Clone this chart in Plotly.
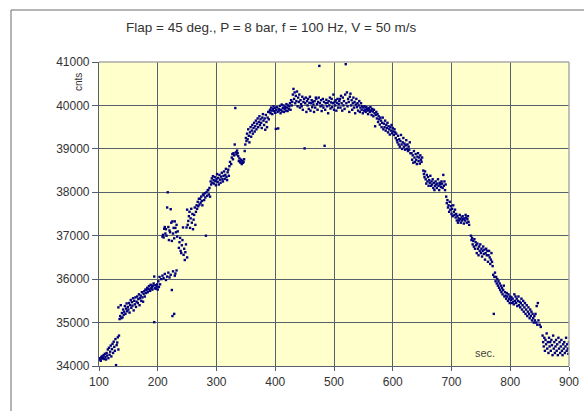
import plotly.graph_objects as go

# ---- data (seconds, counts) ----
a_sec = [101,102,103,104,105,106,107,108,109,110,111,112,113,114,115,116,117,118,119,120,121,122,123,124,125,126,127,128,129,130,131,132,133,134]
a_cnt = [34150,34180,34120,34210,34170,34230,34190,34250,34160,34280,34210,34150,34300,34240,34380,34180,34420,34260,34330,34470,34220,34390,34510,34300,34560,34440,34350,34620,34020,34480,34540,34660,34380,34700]

b_sec = [133,135,136,137,138,139,140,141,142,143,144,145,146,147,148,149,150,151,152,153,154,155,156,157,158,159,160,161,162,163,164,165,166,167,168,169,170,171,172,173,174,175,176,177,178,179,180,181,182,183,184,185,186,187,188,189,190,191,192,193,194,195,196,197,198,199,200,201,202,203,204]
b_cnt = [35350,35080,35150,35400,35100,35220,35120,35300,35180,35250,35380,35200,35320,35440,35260,35360,35300,35450,35230,35400,35520,35340,35470,35390,35560,35280,35500,35420,35580,35360,35480,35600,35450,35540,35650,35400,35560,35620,35500,35700,35580,35480,35660,35720,35600,35760,35680,35750,35800,35700,35780,35840,35760,35730,35870,35790,35820,35760,35850,35900,35010,35790,35860,35780,35830,35880,35760,35950,35820,36050,35880]

c_sec = [194,206,208,210,212,214,216,218,220,222,224,225,226,228,229,230,232]
c_cnt = [36060,36000,36080,36020,36120,35980,36060,36150,36040,36100,35750,35150,36180,35200,36080,36130,36200]

d_sec = [208,209,210,211,212,213,214,215,216,217,218,219,220,221,222,223,224,225,226,227,228,229,230,231,232,233,234]
d_cnt = [36980,37020,36960,37160,37200,37050,37150,37000,37650,38000,37200,36900,37120,37080,37610,37300,36880,37330,37050,37180,36940,37330,37180,37080,37250,36980,37100]

e_sec = [236,237,238,239,240,241,242,243,244,245,246,247,248,249,250]
e_cnt = [36720,36850,36950,36650,36600,36780,36900,37190,36560,36700,36440,36620,36800,37190,36500]

f_sec = [250,251,252,253,254,255,256,257,258,259,260,261,262,263,264,265]
f_cnt = [37600,37250,37340,37450,37550,37180,37400,37620,37300,37500,37150,37370,37480,37650,37250,37550]

g_sec = [266,267,268,269,270,271,272,273,274,275,276,277,278,279,280,281,282,283,284,285,286,287,288,289]
g_cnt = [37700,37620,37780,37680,37850,37720,37850,37760,37900,37800,37700,37950,37930,37820,37980,37880,37000,38000,37920,38050,38050,37950,38100,37900]

h_sec = [290,291,292,293,294,295,296,297,298,299,300,301,302,303,304,305,306,307,308,309,310,311,312,313,314,315,316,317,318,319,320,321,322]
h_cnt = [38250,38180,38320,38220,38370,38280,38200,38350,38260,38160,38300,38420,38240,38330,38180,38400,38290,38220,38360,38450,38300,38250,38380,38480,38310,38400,38540,38350,38280,38460,38520,38380,38600]

i_sec = [323,325,326,327,328,329,330,331,332,333,334,335,336,337,338,339,340,341,342,343,344,345,346,347,348]
i_cnt = [38700,38650,38800,38880,38760,38900,38850,39100,39940,38920,38870,38960,38900,38830,38720,38780,38700,38680,38750,38650,38720,38680,38700,38760,38950]

j_sec = [349,350,351,352,353,354,355,356,357,358,359,360,361,362,363,364,365,366,367,368,369,370,371,372,373,374,375,376,377,378,379,380,381,382,383,384,385,386,387,388,389]
j_cnt = [39100,39250,39180,39350,39220,39450,39300,39150,39380,39500,39280,39420,39550,39350,39480,39600,39400,39520,39650,39450,39580,39700,39500,39620,39750,39550,39680,39600,39480,39720,39800,39650,39550,39700,39440,39780,39620,39500,39720,39850,39680]

k_sec = [390,391,392,393,394,395,396,397,398,399,400,401,402,403,404,405,406,407,408,409,410,411,412,413,414,415,416,417,418,419,420,421,422,423,424,425,426,427,428,429]
k_cnt = [39850,39900,39820,39950,39880,39800,39920,39980,39870,39940,39830,39460,39900,39960,39850,39470,39920,39880,39990,39820,39900,40020,39860,39940,40000,39850,39920,39960,39880,40030,39950,39870,40000,39920,39980,40050,39900,40120,40000,40080]

l_sec = [430,431,432,433,434,435,436,437,438,439,440,441,442,443,444,445,446,447,448,449,450,451,452,453,454,455,456,457,458,459,460,461,462,463,464,465,466,467,468,469,470,471,472,473,474,475,476,477,478,479,480,481,482,483,484,485,486,487,488,489,490,491,492,493,494,495,496,497,498,499,500,501,502,503,504,505,506,507,508,509]
l_cnt = [40250,40380,40150,40300,40050,40220,40100,40320,39980,40180,40080,40250,39950,40120,40030,39980,40200,39900,40080,40150,39010,40050,40180,39850,40100,40000,40150,39920,40060,40200,39880,40050,40120,39960,40080,40020,39850,40100,39950,40180,40150,40030,39900,40080,40180,40910,40050,39980,40120,39870,40000,40150,39950,40080,39070,39900,40050,40130,39980,40060,39820,40100,40000,40180,39930,40070,40150,39960,40050,40250,39900,40080,40000,40120,39880,40060,40150,39950,40030,40100]

m_sec = [510,511,512,513,514,515,516,517,518,519,520,521,522,523,524,525,526,527,528,529,530,531,532,533,534,535,536,537,538,539,540,541,542,543,544,545,546,547,548,549]
m_cnt = [40150,39950,40220,40050,39880,40180,40000,40100,39920,40250,40950,40050,40300,39980,40150,40080,39850,40200,40270,40000,40120,39900,40050,40180,39950,40080,39820,40020,40150,39960,40050,39880,40000,40100,39850,39950,40050,39900,39980,39820]

n_sec = [550,551,552,553,554,555,556,557,558,559,560,561,562,563,564,565,566,567,568,569,570,571,572]
n_cnt = [39950,39880,39980,39900,39850,39960,39920,39880,39800,39940,39900,39850,39960,39880,39780,39920,39860,39750,39900,39820,39520,39780,39850]

o_sec = [573,574,575,576,577,578,579,580,581,582,583,584,585,586,587,588,589,590,591,592,593,594,595,596,597,598,599,600,601,602,603,604,605]
o_cnt = [39700,39800,39620,39750,39680,39560,39720,39650,39500,39600,39720,39450,39580,39500,39650,39420,39550,39480,39600,39380,39520,39450,39330,39500,39420,39550,39360,39480,39400,39320,39450,39380,39250]

p_sec = [606,607,608,609,610,611,612,613,614,615,616,617,618,619,620,621,622,623,624,625,626,627,628,629,630]
p_cnt = [39350,39200,39150,39300,39100,39220,39050,39180,39320,39100,39000,39150,39250,39050,39120,38980,39080,39200,39000,39100,38950,39050,38980,39150,38900]

q_sec = [632,633,634,635,636,637,638,639,640,641,642,643,644,645,646,647,648,649,650]
q_cnt = [38900,38750,38850,38680,38950,38800,38700,38880,38750,38650,38820,38900,38720,38800,38660,38850,38750,38700,38800]

r_sec = [652,653,654,655,656,657,658,659,660,661,662,663,664,665,666,667,668,669,670,671,672,673,674,675,676,677,678,679,680,681,682,683,684,685,686,687,688,689,690]
r_cnt = [38500,38420,38350,38480,38300,38200,38400,38250,38350,38150,38280,38220,38380,38150,38250,38180,38300,38100,38220,38050,38150,38250,38180,38100,38200,38300,38150,38050,38220,38180,38120,38250,38200,38100,38400,38150,38250,38050,38180]

s_sec = [691,692,693,694,695,696,697,698,699,700,701,702,703,704,705,706,707]
s_cnt = [37900,37750,37820,37650,37700,37550,37780,37600,37680,37500,37620,37450,37700,37550,37480,37600,37420]

t_sec = [708,709,710,711,712,713,714,715,716,717,718,719,720,721,722,723,724,725,726,727,728,729,730]
t_cnt = [37500,37350,37450,37300,37400,37350,37480,37380,37300,37420,37350,37450,37380,37280,37400,37350,37480,37420,37300,37380,37450,37320,37250]

u_sec = [733,734,735,736,737,738,739,740,741,742,743,744,745,746,747,748,749,750,751,752,753,754,755,756,757,758,759,760,761,762,763,764,765,766,767,768,769,770]
u_cnt = [37000,36900,36950,36800,36880,36750,36920,36700,36850,36780,36600,36820,36700,36550,36750,36650,36800,36600,36700,36520,36650,36750,36580,36680,36450,36600,36700,36550,36650,36400,36550,36650,36500,36350,36450,36600,36400,36300]

v_sec = [771,772,773,774,775,776,777,778,779,780,781,782,783,784,785,786,787,788,789,790,791,792,793,794,795,796,797,798,799,800,801,802,803,804,805,806]
v_cnt = [36100,35200,36050,36150,35950,36050,35900,36000,35850,35950,35800,35900,35750,35850,35700,35800,35650,35750,35850,35600,35700,35620,35550,35680,35600,35500,35650,35550,35450,35600,35520,35580,35450,35550,35480,35420]

w_sec = [807,808,809,810,811,812,813,814,815,816,817,818,819,820,821,822,823,824,825,826,827,828,829,830,831,832,833,834,835,836,837,838,839,840,841,842,843,844,845,846,847,848,850,852]
w_cnt = [35650,35500,35600,35450,35550,35380,35500,35600,35400,35480,35350,35450,35550,35300,35400,35500,35250,35350,35450,35200,35300,35400,35150,35250,35350,35200,35100,35300,35150,35250,35050,35200,35100,35000,35150,35050,35200,35000,35380,34950,35450,35050,34950,34900]

x_sec = [855,856,857,858,859,860,861,862,863,864,865,866,867,868,869,870,871,872,873,874,875,876,877,878,879,880,881,882,883,884,885,886,887,888,889,890,891,892,893,894,895,896,897,898,899,900]
x_cnt = [34700,34550,34450,34650,34350,34600,34500,34750,34400,34550,34300,34650,34450,34550,34350,34600,34480,34250,34700,34400,34550,34300,34450,34600,34350,34500,34250,34650,34400,34550,34300,34450,34600,34350,34250,34500,34400,34550,34300,34450,34650,34350,34500,34400,34280,34550]

x_ticks = [100, 200, 300, 400, 500, 600, 700, 800, 900]
y_ticks = [34000, 35000, 36000, 37000, 38000, 39000, 40000, 41000]

title_text = "Flap = 45 deg., P = 8 bar, f = 100 Hz, V = 50 m/s"
y_label = "cnts"
x_label = "sec."

pairs = [(a_sec, a_cnt), (b_sec, b_cnt), (c_sec, c_cnt), (d_sec, d_cnt), (e_sec, e_cnt),
         (f_sec, f_cnt), (g_sec, g_cnt), (h_sec, h_cnt), (i_sec, i_cnt), (j_sec, j_cnt),
         (k_sec, k_cnt), (l_sec, l_cnt), (m_sec, m_cnt), (n_sec, n_cnt), (o_sec, o_cnt),
         (p_sec, p_cnt), (q_sec, q_cnt), (r_sec, r_cnt), (s_sec, s_cnt), (t_sec, t_cnt),
         (u_sec, u_cnt), (v_sec, v_cnt), (w_sec, w_cnt), (x_sec, x_cnt)]
secs, cnts = [], []
for sx, sy in pairs:
    assert len(sx) == len(sy), (sx[0], len(sx), len(sy))
    secs += sx
    cnts += sy

W, H = 584, 411
L, R, T, B = 99, 15, 62, 45
pw, ph = W - L - R, H - T - B

def px(xp):
    return (xp - L) / pw

def py(yp):
    return (H - B - yp) / ph

grid = "#56606d"
font = "Liberation Sans, Arial, sans-serif"

fig = go.Figure(go.Scatter(
    x=secs, y=cnts, mode="markers",
    marker=dict(symbol="square", size=2.4, color="#000080", line=dict(width=0)),
    hoverinfo="skip",
))

axis_common = dict(
    showgrid=True, gridcolor=grid, gridwidth=1.2,
    ticks="outside", tickcolor=grid, tickwidth=1,
    showline=True, linecolor=grid, linewidth=1.2,
    zeroline=False, tickformat="d",
    tickfont=dict(family=font, size=12, color="#333333"),
)

fig.update_layout(
    width=W, height=H,
    margin=dict(l=L, r=R, t=T, b=B, pad=0, autoexpand=False),
    paper_bgcolor="white",
    plot_bgcolor="#FFFFCC",
    showlegend=False,
    xaxis=dict(range=[100, 900], tickvals=x_ticks, ticklen=4, **axis_common),
    yaxis=dict(range=[34000, 41000], tickvals=y_ticks, ticklen=6, **axis_common),
    shapes=[
        dict(type="rect", xref="paper", yref="paper",
             x0=px(11), x1=px(600), y0=py(430), y1=py(10),
             line=dict(color="#6b6b6b", width=1), fillcolor="rgba(0,0,0,0)", layer="below"),
        dict(type="line", xref="paper", yref="paper", x0=0, x1=1, y0=1, y1=1,
             line=dict(color="#a8a8a8", width=1.5)),
        dict(type="line", xref="paper", yref="paper", x0=1, x1=1, y0=0, y1=1,
             line=dict(color="#a8a8a8", width=1.5)),
    ],
    annotations=[
        dict(text=title_text, xref="paper", yref="paper", x=px(271), y=py(27),
             xanchor="center", yanchor="middle", showarrow=False,
             font=dict(family=font, size=13.5, color="#333333")),
        dict(text=y_label, xref="paper", yref="paper", x=px(78), y=py(82),
             xanchor="center", yanchor="middle", showarrow=False, textangle=-90,
             font=dict(family=font, size=10, color="#333333")),
        dict(text=x_label, xref="paper", yref="paper", x=px(485), y=py(353),
             xanchor="center", yanchor="middle", showarrow=False,
             font=dict(family=font, size=11, color="#444444")),
    ],
)

fig.write_html("out.html")
